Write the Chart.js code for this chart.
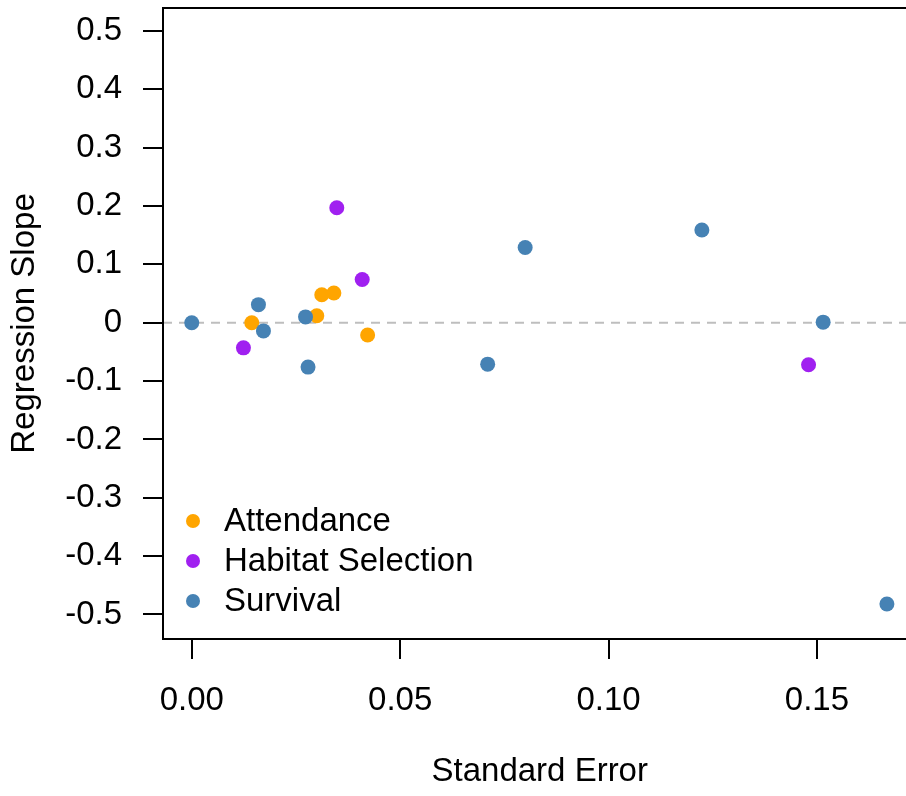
<!DOCTYPE html>
<html>
<head>
<meta charset="utf-8">
<script src="https://cdn.jsdelivr.net/npm/chart.js@4/dist/chart.umd.min.js"></script>
<style>
  html, body { margin: 0; padding: 0; background: #ffffff; overflow: hidden; }
  #wrap { width: 906px; height: 796px; overflow: hidden; }
  canvas { display: block; }
</style>
</head>
<body>
<div id="wrap"><canvas id="c" width="930" height="796"></canvas></div>
<script>
// ---- Data ----
const seriesNames = ["Attendance", "Habitat Selection", "Survival"];
const seriesColors = ["#FFA500", "#A020F0", "#4682B4"];

const attendanceSE    = [0.0144, 0.0300, 0.0312, 0.0341, 0.0422];
const attendanceSlope = [0.000, 0.012, 0.048, 0.051, -0.021];

const habitatSE    = [0.0124, 0.0348, 0.0409, 0.1480];
const habitatSlope = [-0.043, 0.197, 0.074, -0.072];

const survivalSE    = [0.0000, 0.0160, 0.0172, 0.0273, 0.0279, 0.0710, 0.0800, 0.1224, 0.1515, 0.1668];
const survivalSlope = [0.000, 0.031, -0.014, 0.010, -0.076, -0.071, 0.129, 0.159, 0.001, -0.482];

const xTicks = [0, 0.05, 0.10, 0.15];
const xTickLabels = ["0.00", "0.05", "0.10", "0.15"];
const yTicks = [-0.5, -0.4, -0.3, -0.2, -0.1, 0, 0.1, 0.2, 0.3, 0.4, 0.5];
const yTickLabels = ["-0.5", "-0.4", "-0.3", "-0.2", "-0.1", "0", "0.1", "0.2", "0.3", "0.4", "0.5"];
const refLineValue = 0;

// ---- Build datasets ----
function pts(xs, ys) { return xs.map((x, i) => ({ x: x, y: ys[i] })); }
const seriesData = [
  pts(attendanceSE, attendanceSlope),
  pts(habitatSE, habitatSlope),
  pts(survivalSE, survivalSlope)
];
const drawOrder = [2, 0, 1];
const datasets = drawOrder.map(i => ({
  label: seriesNames[i],
  data: seriesData[i],
  backgroundColor: seriesColors[i],
  borderColor: seriesColors[i],
  borderWidth: 0,
  pointRadius: 7.5,
  pointHoverRadius: 7.5
}));

const FONT = "'Liberation Sans', Arial, sans-serif";
const FS = 33;

const boxPlugin = {
  id: 'boxAndRef',
  beforeDatasetsDraw(chart) {
    const ctx = chart.ctx, a = chart.chartArea;
    const y = chart.scales.y.getPixelForValue(refLineValue);
    ctx.save();
    ctx.strokeStyle = '#BEBEBE';
    ctx.lineWidth = 2;
    ctx.setLineDash([9, 7]);
    ctx.beginPath();
    ctx.moveTo(a.left, y);
    ctx.lineTo(a.right, y);
    ctx.stroke();
    ctx.restore();
  },
  afterDatasetsDraw(chart) {
    const ctx = chart.ctx, a = chart.chartArea;
    ctx.save();
    ctx.strokeStyle = '#000';
    ctx.lineWidth = 2;
    ctx.strokeRect(a.left, a.top, a.right - a.left, a.bottom - a.top);
    const lx = 193, ly0 = 521, dy = 40;
    ctx.font = FS + "px " + FONT;
    ctx.textBaseline = 'middle';
    ctx.textAlign = 'left';
    seriesNames.forEach((name, i) => {
      const ly = ly0 + i * dy;
      ctx.fillStyle = seriesColors[i];
      ctx.beginPath();
      ctx.arc(lx, ly, 7, 0, Math.PI * 2);
      ctx.fill();
      ctx.fillStyle = '#000';
      ctx.fillText(name, 224, ly + 1);
    });
    ctx.restore();
  }
};

new Chart(document.getElementById('c'), {
  type: 'scatter',
  data: { datasets: datasets },
  plugins: [boxPlugin],
  options: {
    responsive: false,
    devicePixelRatio: 1,
    animation: false,
    layout: { padding: { top: 8, right: 13.5, left: 0, bottom: 0 } },
    plugins: { legend: { display: false }, tooltip: { enabled: false } },
    scales: {
      x: {
        type: 'linear',
        min: -0.0069,
        max: 0.1739,
        afterFit(scale) { scale.height = 157; scale.paddingLeft = 0; scale.paddingRight = 0; },
        afterBuildTicks(scale) { scale.ticks = xTicks.map(v => ({ value: v })); },
        grid: { drawOnChartArea: false, drawTicks: true, tickLength: 20, color: '#000', lineWidth: 2 },
        border: { display: false },
        ticks: {
          color: '#000',
          font: { family: FONT, size: FS },
          padding: 22,
          maxRotation: 0,
          autoSkip: false,
          callback: (v) => { const i = xTicks.indexOf(v); return i >= 0 ? xTickLabels[i] : ''; }
        },
        title: {
          display: true,
          text: 'Standard Error',
          color: '#000',
          font: { family: FONT, size: FS },
          padding: { top: 0, bottom: 4 }
        }
      },
      y: {
        type: 'linear',
        min: -0.542,
        max: 0.5394,
        afterFit(scale) { scale.width = 163; scale.paddingTop = 0; scale.paddingBottom = 0; },
        afterBuildTicks(scale) { scale.ticks = yTicks.map(v => ({ value: v })); },
        grid: { drawOnChartArea: false, drawTicks: true, tickLength: 20, color: '#000', lineWidth: 2 },
        border: { display: false },
        ticks: {
          color: '#000',
          font: { family: FONT, size: FS },
          padding: 21,
          autoSkip: false,
          callback: (v) => { const i = yTicks.findIndex(t => Math.abs(t - v) < 1e-9); return i >= 0 ? yTickLabels[i] : ''; }
        },
        title: {
          display: true,
          text: 'Regression Slope',
          color: '#000',
          font: { family: FONT, size: FS },
          padding: { top: 5, bottom: 0 }
        }
      }
    }
  }
});
</script>
</body>
</html>
